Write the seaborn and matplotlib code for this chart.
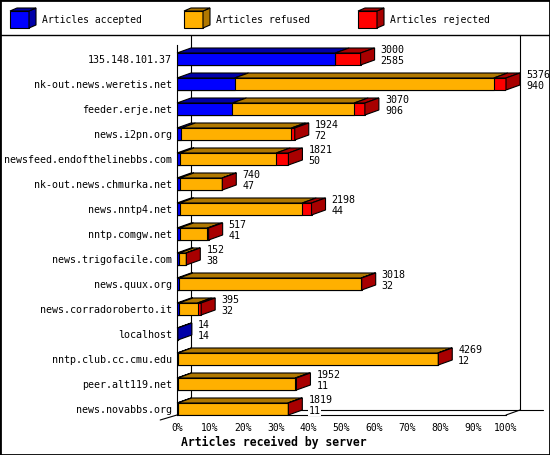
import numpy as np
import pandas as pd
import matplotlib
matplotlib.use("Agg")
import matplotlib.pyplot as plt
import seaborn as sns
from matplotlib.patches import Polygon, Rectangle
from matplotlib.lines import Line2D

servers = ["135.148.101.37", "nk-out.news.weretis.net", "feeder.erje.net",
           "news.i2pn.org", "newsfeed.endofthelinebbs.com", "nk-out.news.chmurka.net",
           "news.nntp4.net", "nntp.comgw.net", "news.trigofacile.com", "news.quux.org",
           "news.corradoroberto.it", "localhost", "nntp.club.cc.cmu.edu",
           "peer.alt119.net", "news.novabbs.org"]
total = [3000, 5376, 3070, 1924, 1821, 740, 2198, 517, 152, 3018, 395, 14, 4269, 1952, 1819]
accepted = [2585, 940, 906, 72, 50, 47, 44, 41, 38, 32, 32, 14, 12, 11, 11]
rejected = [415, 200, 175, 55, 200, 3, 152, 20, 5, 10, 60, 0, 7, 20, 8]
series = ["Articles accepted", "Articles refused", "Articles rejected"]
front = ["#0000ff", "#ffb000", "#ff0000"]
dark = ["#0000a8", "#b07800", "#a80000"]

df = pd.DataFrame({"server": servers, "total": total, "accepted": accepted, "rejected": rejected})
df["refused"] = df["total"] - df["accepted"] - df["rejected"]
scale = 100.0 / df["total"].max()
df["c1"] = df["accepted"] * scale
df["c2"] = (df["accepted"] + df["refused"]) * scale
df["c3"] = df["total"] * scale

sns.set_style("white")
plt.rcParams["font.family"] = ["DejaVu Sans Mono"]
plt.rcParams["text.color"] = "black"
plt.rcParams["xtick.color"] = "black"
plt.rcParams["ytick.color"] = "black"
plt.rcParams["axes.labelcolor"] = "black"

W, H = 550, 455
fig = plt.figure(figsize=(W / 100, H / 100), dpi=100)
fx = lambda px: px / W
fy = lambda py: 1 - py / H
ax = fig.add_axes([fx(177), fy(415), 329 / W, 380 / H])

# stacked front faces, drawn back to front
for col, c in [("c3", front[2]), ("c2", front[1]), ("c1", front[0])]:
    sns.barplot(data=df, x=col, y="server", orient="h", color=c, saturation=1,
                width=0.48, edgecolor="black", linewidth=0.8, errorbar=None, ax=ax)

ax.set_xlim(0, 100)
ax.set_ylim(14.24, -0.96)
dx = 14 * 100 / 329   # depth offset, 14 px
dy = -5 / 25          # depth offset, 5 px up
hh = 0.24

for i, r in df.iterrows():
    edges = [0, r["c1"], r["c2"], r["c3"]]
    vals = [r["accepted"], r["refused"], r["rejected"]]
    top = i - hh
    last = 0
    for k in range(3):
        l, rr = edges[k], edges[k + 1]
        if vals[k] > 0:
            last = k
            ax.add_patch(Polygon([(l, top), (rr, top), (rr + dx, top + dy), (l + dx, top + dy)],
                                 closed=True, facecolor=dark[k], edgecolor="black",
                                 linewidth=0.8, clip_on=False, zorder=3))
    R = edges[3]
    ax.add_patch(Polygon([(R, i - hh), (R, i + hh), (R + dx, i + hh + dy), (R + dx, i - hh + dy)],
                         closed=True, facecolor=dark[last], edgecolor="black",
                         linewidth=0.8, clip_on=False, zorder=3))
    tx = R + dx + 6 * 100 / 329
    for txt, yy in [(r["total"], i - 0.36), (r["accepted"], i + 0.08)]:
        ax.text(tx, yy, str(txt), fontsize=7.2, ha="left", va="center", zorder=5,
                bbox=dict(facecolor="white", edgecolor="none", pad=0.3))

# 3D frame lines, behind the bars
lk = dict(color="black", linewidth=0.8, clip_on=False, zorder=0.5)
ax.plot([dx, dx], [-0.96, 14.24 + dy], **lk)
ax.plot([100 + dx, 100 + dx], [-0.96, 14.24 + dy], **lk)
ax.plot([dx, 111.2], [14.24 + dy, 14.24 + dy], **lk)
ax.plot([100, 100 + dx], [14.24, 14.24 + dy], **lk)
ax.plot([-dx * 1.2, 0], [14.24 - dy, 14.24], **lk)

for s in ["top", "right"]:
    ax.spines[s].set_visible(False)
ax.spines["left"].set_bounds(-0.56, 14.24)
ax.spines["bottom"].set_bounds(0, 100)
for s in ["left", "bottom"]:
    ax.spines[s].set_linewidth(0.8)
    ax.spines[s].set_color("black")
ax.set_xticks(np.arange(0, 101, 10))
ax.set_xticklabels([f"{v}%" for v in range(0, 101, 10)])
ax.tick_params(axis="x", direction="out", length=3.6, width=0.8, labelsize=7, pad=2.5)
ax.tick_params(axis="y", length=0, labelsize=7.2, pad=3.6)
ax.set_xlabel("")
ax.set_ylabel("")
fig.text(fx(274), fy(442), "Articles received by server", fontsize=8.3,
         fontweight="bold", ha="center", va="center")

# legend cubes
for k, (name, x0) in enumerate(zip(series, [10, 184, 358])):
    pts = lambda p: [(fx(a), fy(b)) for a, b in p]
    fig.add_artist(Polygon(pts([(x0, 11), (x0 + 19, 11), (x0 + 19, 28), (x0, 28)]),
                           closed=True, transform=fig.transFigure, facecolor=front[k],
                           edgecolor="black", linewidth=0.8))
    fig.add_artist(Polygon(pts([(x0 + 19, 11), (x0 + 26, 8), (x0 + 26, 25), (x0 + 19, 28)]),
                           closed=True, transform=fig.transFigure, facecolor=dark[k],
                           edgecolor="black", linewidth=0.8))
    fig.add_artist(Polygon(pts([(x0, 11), (x0 + 7, 8), (x0 + 26, 8), (x0 + 19, 11)]),
                           closed=True, transform=fig.transFigure, facecolor=dark[k],
                           edgecolor="black", linewidth=0.8))
    fig.text(fx(x0 + 32), fy(20), name, fontsize=7, ha="left", va="center")

fig.add_artist(Line2D([0, 1], [fy(34.5), fy(34.5)], transform=fig.transFigure,
                      color="black", linewidth=1))
fig.add_artist(Rectangle((0, 0), 1, 1, transform=fig.transFigure, fill=False,
                         edgecolor="black", linewidth=2))

fig.savefig("out.png", dpi=100)
